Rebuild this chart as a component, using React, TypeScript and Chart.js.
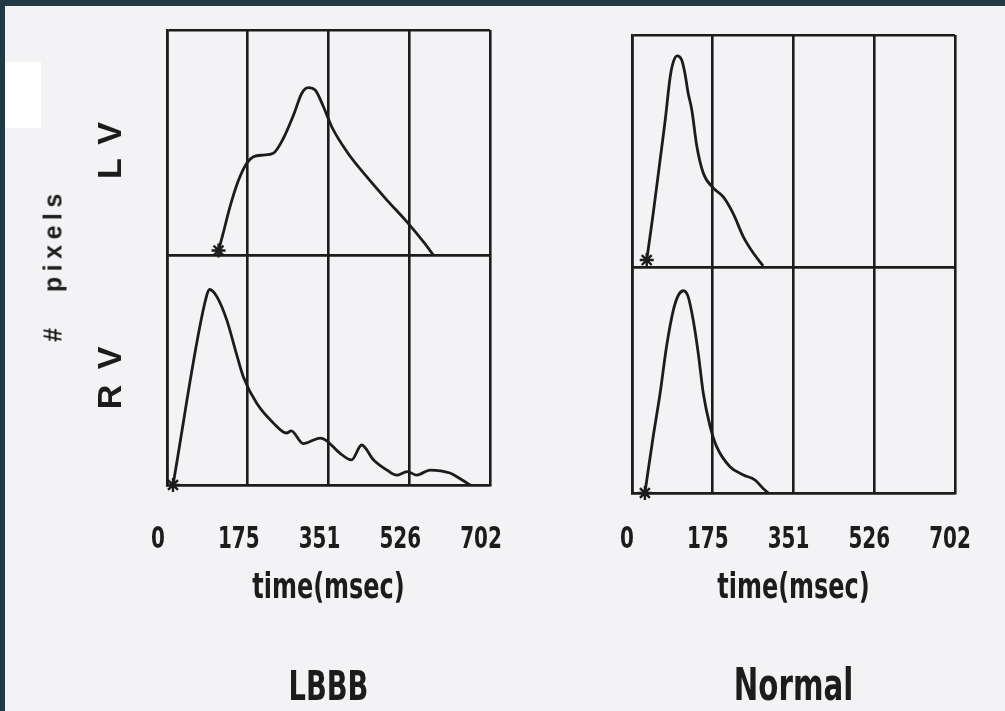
import React, { useEffect, useRef } from "react";
import { Chart, registerables } from "chart.js";

Chart.register(...registerables);

// ---------- data ----------
const xTickValues = [0, 175.5, 351, 526.5, 702];
const xTickLabels = ["0", "175", "351", "526", "702"];
const yBounds = [0, 100];

// LBBB, left ventricle
const lbbbLvTime = [112, 122, 137, 155, 173, 188, 209, 231, 253, 275, 293, 307, 322, 340, 358, 391, 434, 478, 521, 557, 579];
const lbbbLvPixels = [2, 9.6, 21.5, 33, 40.7, 43.7, 44.4, 45.2, 51.9, 62.2, 71.9, 74.4, 73.3, 65.9, 57, 45.9, 34.8, 24.4, 14.8, 5.9, 0];

// LBBB, right ventricle
const lbbbRvTime = [13, 82, 93, 108, 130, 151, 166, 195, 231, 260, 270, 296, 333, 345, 376, 401, 423, 449, 478, 499, 522, 543, 572, 615, 630, 659];
const lbbbRvPixels = [0, 79, 85, 82, 71.7, 57, 47, 35.5, 27, 22.6, 23.5, 18, 20.4, 19.5, 13.8, 10.9, 17.4, 10.9, 6.5, 4.3, 5.8, 4.3, 6.5, 5.2, 3.6, 0];

// Normal, left ventricle
const normLvTime = [32, 46, 61, 72, 83, 90, 98, 108, 115, 122, 130, 141, 155, 177, 198, 220, 242, 264, 285];
const normLvPixels = [3, 23, 46, 63, 82, 88.5, 91, 89.2, 83.5, 75, 67.7, 51.9, 40.4, 34, 30.3, 23, 13, 5.9, 0.5];

// Normal, right ventricle
const normRvTime = [28, 46, 61, 75, 90, 101, 112, 122, 133, 144, 155, 170, 184, 213, 242, 267, 285, 296];
const normRvPixels = [0, 24.9, 44, 64.7, 81, 87.6, 89.5, 86.9, 76.5, 61.8, 44, 29.3, 20.5, 11.6, 8, 5.8, 2, 0];

// ---------- style ----------
const INK = "#1c1c1c";
const NARROW = '"DejaVu Sans Condensed", "Liberation Sans", sans-serif';
const SANS = '"Liberation Sans", Arial, sans-serif';
const NARROW_SCALE = 0.74; // horizontal squeeze for the condensed lettering
const WIDE_SPACING = "16px"; // letter spacing of the LV / RV labels
const H = 711;

type Panel = {
  canvasLeft: number;
  canvasWidth: number;
  areaTop: number;
  areaBottom: number;
  areaLeft: number;
  areaRight: number;
  topWeight: number;
  botWeight: number;
  yTitles: [string, string] | null;
  title: string;
  titleSize: number;
  titleLineHeight: number;
  titlePadBottom: number;
  labelOffset: number;
  lv: [number[], number[]];
  rv: [number[], number[]];
};

const TICK_SIZE = 30;
const XTITLE_SIZE = 36;
const TICK_CENTER = 540;
const XTITLE_CENTER = 589;

function series(times: number[], vals: number[]) {
  return times.map((t, i) => ({ x: t, y: vals[i] }));
}

function lineDataset(times: number[], vals: number[], axis: string) {
  return {
    data: series(times, vals),
    yAxisID: axis,
    xAxisID: "x",
    borderColor: INK,
    backgroundColor: INK,
    borderWidth: 2.8,
    cubicInterpolationMode: "monotone" as const,
    fill: false,
    clip: false as any,
    pointStyle: "star" as const,
    pointRadius: (ctx: any) => (ctx.dataIndex === 0 ? 7 : 0),
    pointBorderColor: INK,
    pointBorderWidth: 2.4,
  };
}

function yScale(p: Panel, weight: number, title: string | null) {
  return {
    type: "linear" as const,
    position: "left" as const,
    stack: "panel",
    stackWeight: weight,
    min: yBounds[0],
    max: yBounds[1],
    afterBuildTicks: (s: any) => {
      s.ticks = yBounds.map((v) => ({ value: v }));
    },
    afterFit: (s: any) => {
      s.width = p.areaLeft;
    },
    ticks: { display: false },
    grid: { color: INK, lineWidth: 2.6, drawTicks: false },
    border: { display: true, color: INK, width: 2.6 },
    title: title
      ? {
          display: true,
          text: title,
          color: INK,
          font: { family: SANS, size: 34, weight: "bold" as const },
          padding: { top: 91, bottom: 0 },
        }
      : { display: false },
  };
}

function buildConfig(p: Panel): any {
  const titleTop = H - (p.titleSize * p.titleLineHeight + p.titlePadBottom);
  const xHeight = titleTop - p.areaBottom;
  const tickPad = TICK_CENTER - p.areaBottom - (TICK_SIZE * 1.2) / 2;
  const xTitlePadBottom = titleTop - XTITLE_CENTER - (XTITLE_SIZE * 1.2) / 2;
  return {
    type: "line",
    data: {
      datasets: [
        lineDataset(p.lv[0], p.lv[1], "yTop"),
        lineDataset(p.rv[0], p.rv[1], "yBot"),
      ],
    },
    options: {
      animation: false,
      responsive: false,
      maintainAspectRatio: false,
      layout: {
        padding: { top: p.areaTop, left: 0, bottom: 0, right: p.canvasWidth - p.areaRight },
      },
      plugins: {
        legend: { display: false },
        tooltip: { enabled: false },
        title: {
          display: true,
          text: p.title,
          position: "bottom",
          fullSize: false,
          color: INK,
          font: { family: NARROW, size: p.titleSize, weight: "bold", lineHeight: p.titleLineHeight },
          padding: { top: 0, bottom: p.titlePadBottom },
        },
      },
      scales: {
        x: {
          type: "linear",
          position: "bottom",
          min: xTickValues[0],
          max: xTickValues[xTickValues.length - 1],
          afterBuildTicks: (s: any) => {
            s.ticks = xTickValues.map((v) => ({ value: v }));
          },
          afterFit: (s: any) => {
            s.height = xHeight;
          },
          ticks: {
            color: INK,
            padding: tickPad,
            labelOffset: p.labelOffset,
            maxRotation: 0,
            autoSkip: false,
            font: { family: NARROW, size: TICK_SIZE, weight: "bold" },
            callback: (_v: any, i: number) => xTickLabels[i],
          },
          grid: { color: INK, lineWidth: 2.6, drawTicks: false },
          border: { display: true, color: INK, width: 2.6 },
          title: {
            display: true,
            text: "time(msec)",
            color: INK,
            font: { family: NARROW, size: XTITLE_SIZE, weight: "bold" },
            padding: { top: 0, bottom: xTitlePadBottom },
          },
        },
        // first stacked axis is laid out at the bottom
        yBot: yScale(p, p.botWeight, p.yTitles ? p.yTitles[1] : null),
        yTop: yScale(p, p.topWeight, p.yTitles ? p.yTitles[0] : null),
      },
    },
  };
}

const leftPanel: Panel = {
  canvasLeft: 0,
  canvasWidth: 560,
  areaTop: 30,
  areaBottom: 485,
  areaLeft: 167,
  areaRight: 490,
  topWeight: 225,
  botWeight: 230,
  yTitles: ["LV", "RV"],
  title: "LBBB",
  titleSize: 41,
  titleLineHeight: 1.05,
  titlePadBottom: 0,
  labelOffset: -9,
  lv: [lbbbLvTime, lbbbLvPixels],
  rv: [lbbbRvTime, lbbbRvPixels],
};

const rightPanel: Panel = {
  canvasLeft: 560,
  canvasWidth: 480,
  areaTop: 35,
  areaBottom: 493,
  areaLeft: 72,
  areaRight: 395,
  topWeight: 232,
  botWeight: 226,
  yTitles: null,
  title: "Normal",
  titleSize: 44,
  titleLineHeight: 1.0,
  titlePadBottom: 0,
  labelOffset: -5,
  lv: [normLvTime, normLvPixels],
  rv: [normRvTime, normRvPixels],
};

function PanelChart({ panel }: { panel: Panel }) {
  const ref = useRef<HTMLCanvasElement | null>(null);
  useEffect(() => {
    const canvas = ref.current;
    if (!canvas) return;
    const ctx = canvas.getContext("2d") as CanvasRenderingContext2D;
    const orig = ctx.fillText.bind(ctx);
    (ctx as any).fillText = (text: string, x: number, y: number, maxWidth?: number) => {
      if (ctx.font.includes("Condensed")) {
        const w = ctx.measureText(text).width * NARROW_SCALE;
        return orig(text, x, y, maxWidth !== undefined ? Math.min(maxWidth, w) : w);
      }
      const c: any = ctx;
      const prev = c.letterSpacing;
      if (prev !== undefined) c.letterSpacing = WIDE_SPACING;
      orig(text, x, y);
      if (prev !== undefined) c.letterSpacing = prev;
    };
    const cfg = buildConfig(panel);
    const chart = new Chart(canvas, cfg);
    for (let k = 0; k < 4; k++) {
      const a = chart.chartArea;
      const dr = a.right - panel.areaRight;
      if (Math.abs(dr) < 0.5) break;
      cfg.options.layout.padding.right = Math.max(0, cfg.options.layout.padding.right + dr);
      chart.update();
    }
    return () => chart.destroy();
  }, [panel]);
  return (
    <canvas
      ref={ref}
      width={panel.canvasWidth}
      height={H}
      style={{ position: "absolute", left: panel.canvasLeft, top: 0, width: panel.canvasWidth, height: H }}
    />
  );
}

export default function App() {
  return (
    <div
      style={{
        position: "absolute",
        left: 0,
        top: 0,
        width: 1005,
        height: H,
        background: "#223a46",
        overflow: "hidden",
      }}
    >
      <div style={{ position: "absolute", left: 5, top: 6, right: 0, bottom: 0, background: "#f3f3f5" }} />
      <div style={{ position: "absolute", left: 5, top: 62, width: 36, height: 66, background: "#ffffff" }} />
      <PanelChart panel={leftPanel} />
      <PanelChart panel={rightPanel} />
      <div
        style={{
          position: "absolute",
          left: 53,
          top: 265,
          transform: "translate(-50%, -50%) rotate(-90deg)",
          font: `bold 25px ${SANS}`,
          letterSpacing: "5.5px",
          wordSpacing: "18px",
          whiteSpace: "nowrap",
          color: INK,
        }}
      >
        # pixels
      </div>
    </div>
  );
}
